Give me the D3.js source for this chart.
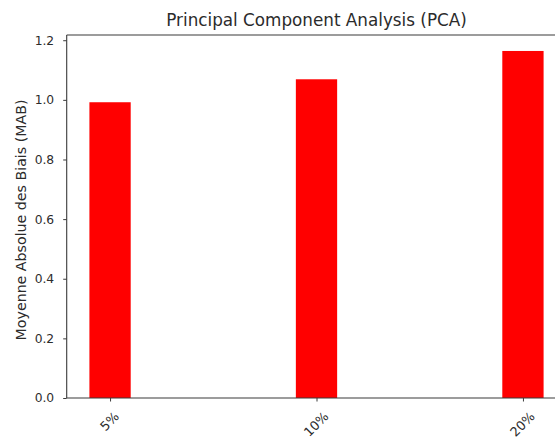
<!DOCTYPE html>
<html>
<head>
<meta charset="utf-8">
<script src="https://cdn.jsdelivr.net/npm/d3@7"></script>
<style>
  html, body { margin: 0; padding: 0; background: #fff; }
  svg { display: block; font-family: "DejaVu Sans", sans-serif; }
</style>
</head>
<body>
<svg id="chart" width="555" height="437"></svg>
<script>
// Share of missing data and the mean absolute bias obtained with PCA imputation
const categories = ["5%", "10%", "20%"];
const mabValues = [0.992, 1.069, 1.164];
const yTicks = [0.0, 0.2, 0.4, 0.6, 0.8, 1.0, 1.2];

const chartTitle = "Principal Component Analysis (PCA)";
const yLabel = "Moyenne Absolue des Biais (MAB)";

const svg = d3.select("#chart");

// Plot area (right part extends past the visible window)
const plotLeft = 66.7, plotRight = 566.3, plotTop = 35, plotBottom = 398;

const x = d3.scalePoint()
  .domain(categories)
  .range([plotLeft, plotRight])
  .padding(0.21);

const barWidth = x.step() * 0.2;

const y = d3.scaleLinear()
  .domain([0, d3.max(mabValues) * 1.046])
  .range([plotBottom, plotTop]);

// Bars
svg.append("g")
  .selectAll("rect")
  .data(categories.map((c, i) => ({ c, v: mabValues[i] })))
  .join("rect")
  .attr("x", d => x(d.c) - barWidth / 2)
  .attr("y", d => y(d.v))
  .attr("width", barWidth)
  .attr("height", d => y(0) - y(d.v))
  .attr("fill", "#ff0000");

const axisColor = "#3a3a3a";
const textColor = "#2b2b2b";

// Y axis
const yAxis = svg.append("g")
  .attr("transform", `translate(${plotLeft},0)`)
  .call(d3.axisLeft(y).tickValues(yTicks).tickFormat(d3.format(".1f")).tickSize(3.5).tickPadding(9));
yAxis.select(".domain").remove();
yAxis.selectAll(".tick line").attr("stroke", axisColor).attr("stroke-width", 1);
yAxis.selectAll(".tick text")
  .attr("fill", textColor)
  .style("font-size", "12.3px")
  .style("font-family", "DejaVu Sans, sans-serif");

// X axis with labels turned 45 degrees
const xAxis = svg.append("g")
  .attr("transform", `translate(0,${plotBottom})`)
  .call(d3.axisBottom(x).tickSize(3.5).tickPadding(0));
xAxis.select(".domain").remove();
xAxis.selectAll(".tick line").attr("stroke", axisColor).attr("stroke-width", 1);
xAxis.selectAll(".tick text")
  .attr("fill", textColor)
  .style("font-size", "12.8px")
  .style("font-family", "DejaVu Sans, sans-serif")
  .attr("text-anchor", "middle")
  .attr("dominant-baseline", "central")
  .attr("dy", null)
  .attr("y", 0)
  .each(function () {
    const t = d3.select(this);
    const bb = this.getBBox();
    const h = (bb.width + bb.height) * Math.SQRT1_2;
    t.attr("transform", `translate(-1,${11 + h / 2}) rotate(-45)`);
  });

// Frame (spines)
const frame = svg.append("g")
  .attr("fill", "none")
  .attr("stroke", axisColor)
  .attr("stroke-width", 1.1);
frame.append("line").attr("x1", plotLeft).attr("x2", plotLeft).attr("y1", plotTop).attr("y2", plotBottom);
frame.append("line").attr("x1", plotLeft).attr("x2", plotRight).attr("y1", plotBottom).attr("y2", plotBottom);
frame.append("line").attr("x1", plotLeft).attr("x2", plotRight).attr("y1", plotTop).attr("y2", plotTop);
frame.append("line").attr("x1", plotRight).attr("x2", plotRight).attr("y1", plotTop).attr("y2", plotBottom);

// Title
svg.append("text")
  .attr("x", (plotLeft + plotRight) / 2)
  .attr("y", 26)
  .attr("text-anchor", "middle")
  .attr("fill", textColor)
  .style("font-size", "16.8px")
  .text(chartTitle);

// Y label
svg.append("text")
  .attr("transform", `translate(25.5,220) rotate(-90)`)
  .attr("text-anchor", "middle")
  .attr("fill", textColor)
  .style("font-size", "14.2px")
  .text(yLabel);
</script>
</body>
</html>
